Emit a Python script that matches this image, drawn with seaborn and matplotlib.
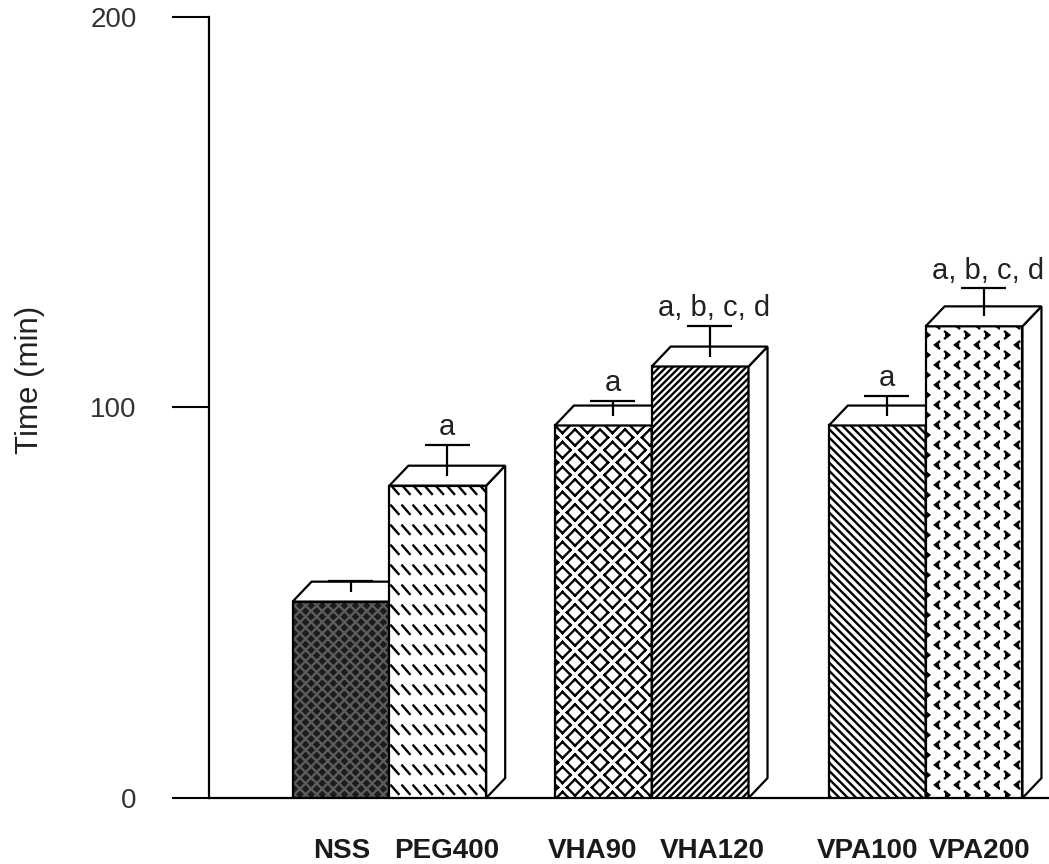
import warnings
import numpy as np
import matplotlib
matplotlib.use('Agg')
import matplotlib.pyplot as plt
import matplotlib.hatch as mhatch
from matplotlib.path import Path
from matplotlib.patches import Polygon, Rectangle
import seaborn as sns

warnings.filterwarnings('ignore')

# ---------------- data ----------------
groups = ['NSS', 'PEG400', 'VHA90', 'VHA120', 'VPA100', 'VPA200']
mean_time = [50.3, 80.0, 95.4, 110.5, 95.4, 120.8]
sem_time = [2.8, 7.9, 3.8, 7.9, 5.1, 7.2]
sig_labels = ['', 'a', 'a', 'a, b, c, d', 'a', 'a, b, c, d']
y_ticks = [0, 100, 200]
y_label = 'Time (min)'

# ---------------- layout / style ----------------
bar_pos = [0.0, 1.0, 2.71, 3.71, 5.54, 6.54]
label_shift = [0.01, 0.095, -0.116, 0.123, -0.096, 0.06]
depth_x, depth_y = 0.196, 5.1
cap_w = 0.465
face_colors = ['#1c1c1c', 'white', 'white', 'white', 'white', 'white']
hatch_colors = ['#5c5c5c', 'black', 'black', 'black', 'black', 'black']
hatches = ['xxx', 'k', 'w', 'n', r'\\\\', 'v']


# ---------------- custom hatch patterns ----------------
class DashHatch(mhatch.HatchPatternBase):
    """rows of short backslash dashes"""
    def __init__(self, hatch, density):
        self.cols, self.rows = 9, 5
        self.num_vertices = 2 * self.cols * self.rows if 'k' in hatch else 0

    def set_vertices_and_codes(self, vertices, codes):
        xs = (np.arange(self.cols) + 0.2) / self.cols
        ys = (np.arange(self.rows) + 0.3) / self.rows
        X, Y = np.meshgrid(xs, ys)
        X, Y = X.ravel(), Y.ravel()
        vertices[0::2, 0] = X
        vertices[0::2, 1] = Y + 0.085
        vertices[1::2, 0] = X + 0.075
        vertices[1::2, 1] = Y
        codes[0::2] = Path.MOVETO
        codes[1::2] = Path.LINETO


class ChevronHatch(mhatch.HatchPatternBase):
    """alternating rows of > and < marks"""
    def __init__(self, hatch, density):
        self.cols, self.rows = 5, 10
        self.num_vertices = 3 * self.cols * self.rows if 'v' in hatch else 0

    def set_vertices_and_codes(self, vertices, codes):
        w, h = 0.042, 0.033
        k = 0
        for r in range(self.rows):
            y = (r + 0.5) / self.rows
            for c in range(self.cols):
                if r % 2 == 0:
                    x = (c + 0.25) / self.cols
                    pts = [(x, y + h), (x + w, y), (x, y - h)]
                else:
                    x = (c + 0.75) / self.cols
                    pts = [(x + w, y + h), (x, y), (x + w, y - h)]
                vertices[k:k + 3] = pts
                codes[k] = Path.MOVETO
                codes[k + 1:k + 3] = Path.LINETO
                k += 3


class WeaveHatch(mhatch.HatchPatternBase):
    """checkerboard of diagonal pairs (basket weave)"""
    def __init__(self, hatch, density):
        self.n = 8
        self.num_vertices = 4 * self.n * self.n if 'w' in hatch else 0

    def set_vertices_and_codes(self, vertices, codes):
        s = 1.0 / self.n
        k = 0
        for i in range(self.n):
            for j in range(self.n):
                x0, y0 = i * s, j * s
                if (i + j) % 2 == 0:
                    segs = [(x0, y0 + 0.35 * s), (x0 + 0.65 * s, y0 + s),
                            (x0 + 0.35 * s, y0), (x0 + s, y0 + 0.65 * s)]
                else:
                    segs = [(x0, y0 + 0.65 * s), (x0 + 0.65 * s, y0),
                            (x0 + 0.35 * s, y0 + s), (x0 + s, y0 + 0.35 * s)]
                vertices[k:k + 4] = segs
                codes[k] = Path.MOVETO
                codes[k + 1] = Path.LINETO
                codes[k + 2] = Path.MOVETO
                codes[k + 3] = Path.LINETO
                k += 4


class DenseSlashHatch(mhatch.HatchPatternBase):
    """dense forward slashes"""
    def __init__(self, hatch, density):
        self.num_lines = 30 if 'n' in hatch else 0
        self.num_vertices = (self.num_lines + 1) * 2 if self.num_lines else 0

    def set_vertices_and_codes(self, vertices, codes):
        steps = np.linspace(-0.5, 0.5, self.num_lines + 1)
        vertices[0::2, 0] = 0.0 + steps
        vertices[0::2, 1] = 0.0 - steps
        vertices[1::2, 0] = 1.0 + steps
        vertices[1::2, 1] = 1.0 - steps
        codes[0::2] = Path.MOVETO
        codes[1::2] = Path.LINETO


mhatch._hatch_types.extend([DashHatch, ChevronHatch, WeaveHatch, DenseSlashHatch])

# ---------------- figure ----------------
sns.set_style('white')
plt.rcParams['font.family'] = ['Liberation Sans', 'DejaVu Sans']
plt.rcParams['hatch.linewidth'] = 1.7

fig = plt.figure(figsize=(10.49, 8.64), dpi=100)
ax = fig.add_axes([209 / 1049, 66 / 864, 840 / 1049, 781 / 864])

sns.barplot(x=bar_pos, y=mean_time, native_scale=True, width=1.0,
            errorbar=None, orient='x', color='white', ax=ax)

bars = list(ax.containers[0])
lw = 1.6
for i, p in enumerate(bars):
    z = 2 + i
    x0, w, h = p.get_x(), p.get_width(), p.get_height()
    p.set_facecolor(face_colors[i])
    p.set_edgecolor(hatch_colors[i])
    p.set_hatch(hatches[i])
    p.set_linewidth(0)
    p.set_zorder(z)
    ax.add_patch(Rectangle((x0, 0), w, h, fill=False, ec='black', lw=lw,
                           zorder=z + 0.1))
    top = Polygon([(x0, h), (x0 + depth_x, h + depth_y),
                   (x0 + w + depth_x, h + depth_y), (x0 + w, h)],
                  closed=True, fc='white', ec='black', lw=lw, zorder=z + 0.1)
    side = Polygon([(x0 + w, 0), (x0 + w + depth_x, depth_y),
                    (x0 + w + depth_x, h + depth_y), (x0 + w, h)],
                   closed=True, fc='white', ec='black', lw=lw, zorder=z + 0.1)
    ax.add_patch(side)
    ax.add_patch(top)
    # error bar from middle of the top face
    xc = x0 + w / 2 + depth_x / 2
    yb = h + depth_y / 2
    yt = yb + sem_time[i]
    ax.vlines(xc, yb, yt, color='black', lw=lw, zorder=z + 0.2)
    ax.hlines(yt, xc - cap_w / 2, xc + cap_w / 2, color='black', lw=lw,
              zorder=z + 0.2)
    if sig_labels[i]:
        ax.text(xc + (0.05 if len(sig_labels[i]) > 1 else 0), yt + 2.4,
                sig_labels[i], ha='center', va='baseline',
                fontsize=21, color='#222222', zorder=z + 0.3)

ax.set_xlim(-1.364, 7.314)
ax.set_ylim(0, 200)
ax.set_yticks(y_ticks)
ax.set_yticklabels([str(t) for t in y_ticks])
ax.tick_params(axis='y', left=True, direction='out', length=27, width=1.5,
               pad=25, labelsize=20, labelcolor='#333333', color='black')
ax.set_xticks([p + s for p, s in zip(bar_pos, label_shift)])
ax.set_xticklabels(groups, fontweight='bold', fontsize=20, color='#1a1a1a')
ax.tick_params(axis='x', bottom=False, length=0, pad=29)

for side_name in ['top', 'right']:
    ax.spines[side_name].set_visible(False)
for side_name in ['left', 'bottom']:
    ax.spines[side_name].set_color('black')
    ax.spines[side_name].set_linewidth(1.6)

ax.set_ylabel(y_label, fontsize=22.5, color='#222222')
ax.yaxis.set_label_coords(-0.195, 0.535)
ax.set_xlabel('')

fig.savefig('out.png', dpi=100)
